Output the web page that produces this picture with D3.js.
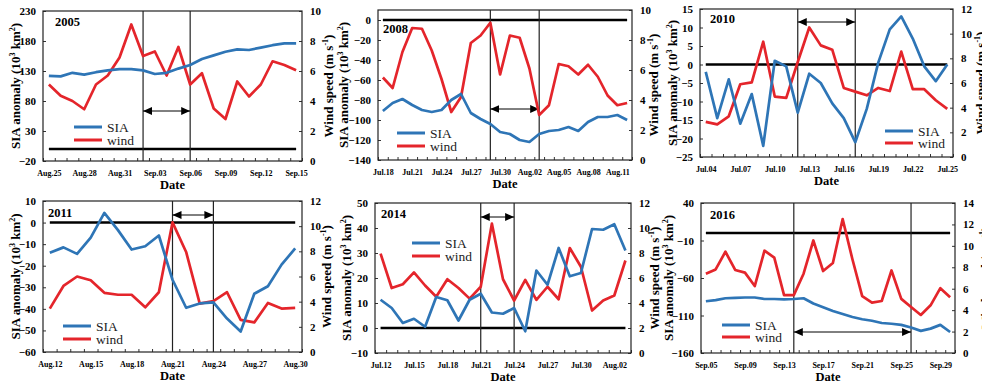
<!DOCTYPE html>
<html>
<head>
<meta charset="utf-8">
<script src="https://cdn.jsdelivr.net/npm/d3@7"></script>
<style>
  body { margin: 0; background: #fff; }
  svg text { font-family: "Liberation Serif", "Times New Roman", serif; }
</style>
</head>
<body>
<svg id="chart" width="982" height="383"></svg>
<script>
// ---- data ----
const dates2005 = ["Aug.25","Aug.26","Aug.27","Aug.28","Aug.29","Aug.30","Aug.31","Sep.01","Sep.02","Sep.03","Sep.04",
  "Sep.05","Sep.06","Sep.07","Sep.08","Sep.09","Sep.10","Sep.11","Sep.12","Sep.13","Sep.14","Sep.15"];
const sia2005 = [122,121,127,124,128,131,133,133,131,125,127,134,140,150,156,162,166,165,169,173,176,176];
const wind2005 = [5.1,4.35,4.0,3.45,5.1,5.7,6.9,9.1,7.0,7.3,5.7,7.6,5.1,5.85,3.5,2.8,5.3,4.3,5.1,6.65,6.4,6.05];
const event2005 = ["Sep.02","Sep.06"];

const dates2008 = ["Jul.18","Jul.19","Jul.20","Jul.21","Jul.22","Jul.23","Jul.24","Jul.25","Jul.26","Jul.27","Jul.28","Jul.29","Jul.30",
  "Jul.31","Aug.01","Aug.02","Aug.03","Aug.04","Aug.05","Aug.06","Aug.07","Aug.08","Aug.09","Aug.10","Aug.11","Aug.12"];
const sia2008 = [-91,-83,-79,-85,-90,-92,-90,-80,-74,-93,-99,-104,-112,-114,-120,-122,-114,-111,-110,-107,-111,-102,-97,-97,-95,-100];
const wind2008 = [5.5,4.8,7.2,8.8,8.75,7.3,5.4,3.2,4.2,7.8,8.3,9.15,5.7,8.3,8.15,6.1,3.0,3.65,6.4,6.25,5.7,6.35,5.55,4.3,3.65,3.8];
const event2008 = ["Jul.29","Aug.03"];

const dates2010 = ["Jul.04","Jul.05","Jul.06","Jul.07","Jul.08","Jul.09","Jul.10","Jul.11","Jul.12","Jul.13","Jul.14",
  "Jul.15","Jul.16","Jul.17","Jul.18","Jul.19","Jul.20","Jul.21","Jul.22","Jul.23","Jul.24","Jul.25"];
const sia2010 = [-2,-14.5,-4,-16,-8,-22,1,-0.5,-13,-2.5,-5,-10.5,-14.5,-21,-12,0.5,9.5,13,7,-0.5,-4.5,0];
const wind2010 = [2.85,2.65,3.3,5.9,6.05,9.35,4.9,4.8,7.7,10.5,9.05,8.7,5.6,5.3,5.0,5.6,5.35,8.55,5.5,5.5,4.6,3.9];
const event2010 = ["Jul.12","Jul.17"];

const dates2011 = ["Aug.12","Aug.13","Aug.14","Aug.15","Aug.16","Aug.17","Aug.18","Aug.19","Aug.20","Aug.21",
  "Aug.22","Aug.23","Aug.24","Aug.25","Aug.26","Aug.27","Aug.28","Aug.29","Aug.30"];
const sia2011 = [-14,-11.5,-14.5,-7,4.5,-3.5,-12.5,-11,-6,-26.5,-39.5,-37.5,-37,-44.5,-50.5,-33,-29.5,-19.5,-12];
const wind2011 = [3.45,5.25,6.0,5.7,4.7,4.55,4.55,3.55,4.75,10.3,7.95,3.85,4.05,4.75,2.55,2.35,3.9,3.45,3.5];
const event2011 = ["Aug.21","Aug.24"];

const dates2014 = ["Jul.12","Jul.13","Jul.14","Jul.15","Jul.16","Jul.17","Jul.18","Jul.19","Jul.20","Jul.21","Jul.22","Jul.23",
  "Jul.24","Jul.25","Jul.26","Jul.27","Jul.28","Jul.29","Jul.30","Jul.31","Aug.01","Aug.02","Aug.03"];
const sia2014 = [11.3,8,2,3.7,0.5,12.4,11.1,3,11.3,13.7,6.2,5.7,8,-1.3,23,17.3,32,20.7,22,39.6,39.3,41.5,31];
const wind2014 = [7.95,5.2,5.5,6.45,5.4,4.5,5.9,5.2,4.35,5.3,10.35,5.9,4.2,5.85,4.25,5.3,4.3,8.4,6.9,3.4,4.2,4.6,7.4];
const event2014 = ["Jul.21","Jul.24"];

const dates2016 = ["Sep.05","Sep.06","Sep.07","Sep.08","Sep.09","Sep.10","Sep.11","Sep.12","Sep.13","Sep.14","Sep.15","Sep.16","Sep.17",
  "Sep.18","Sep.19","Sep.20","Sep.21","Sep.22","Sep.23","Sep.24","Sep.25","Sep.26","Sep.27","Sep.28","Sep.29","Sep.30"];
const sia2016 = [-91,-89.5,-87,-86.5,-86,-86,-88,-88,-88.5,-88,-87,-94,-99,-104,-108,-112,-115,-117,-120,-121,-122.5,-126,-130.5,-127.5,-122.5,-132];
const wind2016 = [7.4,7.8,9.45,7.75,7.5,6.25,9.55,8.9,5.4,5.4,7.4,10.5,7.65,8.4,12.5,8.75,5.3,4.7,4.85,7.7,5.05,4.3,3.55,4.45,6.05,5.2];
const event2016 = ["Sep.14","Sep.26"];

const siaTicks2005 = [-20,30,80,130,180,230];
const siaTicks2008 = [-140,-120,-100,-80,-60,-40,-20,0];
const siaTicks2010 = [-25,-20,-15,-10,-5,0,5,10,15];
const siaTicks2011 = [-60,-50,-40,-30,-20,-10,0,10];
const siaTicks2014 = [-10,0,10,20,30,40,50];
const siaTicks2016 = [-160,-110,-60,-10,40];
const windTicks10 = [0,2,4,6,8,10];
const windTicks12 = [0,2,4,6,8,10,12];
const windTicks14 = [0,2,4,6,8,10,12,14];

const blue = "#2e75b6", red = "#e4252b";

// ---- layout ----
const panels = [
  { year: "2005", dates: dates2005, sia: sia2005, wind: wind2005, ev: event2005, every: 3,
    l: 43, r: 302, t: 11, b: 161, siaDom: [-20, 230], siaTicks: siaTicks2005, windDom: [0, 10], windTicks: windTicks10,
    ltx: 15, rtx: 328, title: [55, 26], legend: [74, 127, 13], arrowY: 111 },
  { year: "2008", dates: dates2008, sia: sia2008, wind: wind2008, ev: event2008, every: 3,
    l: 378, r: 632, t: 10, b: 160, siaDom: [-140, 10], siaTicks: siaTicks2008, windDom: [0, 10], windTicks: windTicks10,
    ltx: 343, rtx: 653, title: [383, 33], legend: [397, 133, 13], arrowY: 109 },
  { year: "2010", dates: dates2010, sia: sia2010, wind: wind2010, ev: event2010, every: 3,
    l: 700, r: 953, t: 9, b: 157, siaDom: [-25, 15], siaTicks: siaTicks2010, windDom: [0, 12], windTicks: windTicks12,
    ltx: 672, rtx: 980, title: [710, 23], legend: [885, 131, 12], arrowY: 22 },
  { year: "2011", dates: dates2011, sia: sia2011, wind: wind2011, ev: event2011, every: 3,
    l: 43, r: 302, t: 201, b: 352, siaDom: [-60, 10], siaTicks: siaTicks2011, windDom: [0, 12], windTicks: windTicks12,
    ltx: 15, rtx: 326, title: [48, 217], legend: [63, 326, 13], arrowY: 215 },
  { year: "2014", dates: dates2014, sia: sia2014, wind: wind2014, ev: event2014, every: 3,
    l: 375, r: 631, t: 203, b: 353, siaDom: [-10, 50], siaTicks: siaTicks2014, windDom: [0, 12], windTicks: windTicks12,
    ltx: 346, rtx: 654, title: [381, 218], legend: [412, 243, 13], arrowY: 217 },
  { year: "2016", dates: dates2016, sia: sia2016, wind: wind2016, ev: event2016, every: 4,
    l: 701, r: 955, t: 203, b: 353, siaDom: [-160, 40], siaTicks: siaTicks2016, windDom: [0, 14], windTicks: windTicks14,
    ltx: 668, rtx: 985, title: [710, 219], legend: [722, 325, 12], arrowY: 332 }
];

const svg = d3.select("#chart");

svg.append("defs").append("marker")
  .attr("id", "head")
  .attr("viewBox", "0 0 10 10")
  .attr("refX", 10).attr("refY", 5)
  .attr("markerUnits", "userSpaceOnUse")
  .attr("markerWidth", 9).attr("markerHeight", 8)
  .attr("preserveAspectRatio", "none")
  .attr("orient", "auto-start-reverse")
  .append("path").attr("d", "M0,0L10,5L0,10Z").attr("fill", "#000");

const supTitle = (text, parts) => {
  parts.forEach(([s, sup]) => {
    if (sup) text.append("tspan").attr("font-size", 8).attr("dy", -5).text(s);
    else text.append("tspan").attr("dy", text.selectAll("tspan").size() ? 5 : 0).text(s);
  });
};

const drawPanel = (p) => {
  const g = svg.append("g");
  const n = p.dates.length;
  const x = d3.scalePoint().domain(p.dates).range([p.l, p.r]).padding(0.5);
  const xb = d3.scaleLinear().domain([0, n]).range([p.l, p.r]);
  const yS = d3.scaleLinear().domain(p.siaDom).range([p.b, p.t]);
  const yW = d3.scaleLinear().domain(p.windDom).range([p.b, p.t]);

  // day ticks (inside) on the bottom edge
  g.append("g").attr("transform", `translate(0,${p.b})`)
    .call(d3.axisBottom(xb).tickValues(d3.range(n + 1)).tickSize(-3).tickFormat(""))
    .call(a => a.select(".domain").remove());

  // date labels
  g.append("g").attr("transform", `translate(0,${p.b})`)
    .call(d3.axisBottom(x).tickValues(p.dates.filter((d, i) => i % p.every === 0)).tickSize(0).tickPadding(9))
    .call(a => a.select(".domain").remove())
    .selectAll("text").attr("font-size", 8).attr("font-weight", "bold").attr("font-family", "Liberation Serif");

  g.append("g").attr("transform", `translate(${p.l},0)`)
    .call(d3.axisLeft(yS).tickValues(p.siaTicks).tickSize(-3).tickPadding(7))
    .call(a => a.select(".domain").remove())
    .selectAll("text").attr("font-size", 11).attr("font-weight", "bold").attr("font-family", "Liberation Serif");

  g.append("g").attr("transform", `translate(${p.r},0)`)
    .call(d3.axisRight(yW).tickValues(p.windTicks).tickSize(-3).tickPadding(8))
    .call(a => a.select(".domain").remove())
    .selectAll("text").attr("font-size", 11).attr("font-weight", "bold").attr("font-family", "Liberation Serif");

  g.selectAll(".tick line").attr("stroke", "#333");

  g.append("rect")
    .attr("x", p.l).attr("y", p.t).attr("width", p.r - p.l).attr("height", p.b - p.t)
    .attr("fill", "none").attr("stroke", "#222").attr("stroke-width", 1.2);

  // zero line
  g.append("line")
    .attr("x1", x(p.dates[0])).attr("x2", x(p.dates[n - 1]))
    .attr("y1", yS(0)).attr("y2", yS(0))
    .attr("stroke", "#000").attr("stroke-width", 2.5);

  // event window
  p.ev.forEach(d => {
    g.append("line").attr("x1", x(d)).attr("x2", x(d)).attr("y1", p.t).attr("y2", p.b)
      .attr("stroke", "#222").attr("stroke-width", 1.2);
  });
  g.append("line")
    .attr("x1", x(p.ev[0])).attr("x2", x(p.ev[1]))
    .attr("y1", p.arrowY).attr("y2", p.arrowY)
    .attr("stroke", "#000").attr("stroke-width", 1)
    .attr("marker-start", "url(#head)").attr("marker-end", "url(#head)");

  const siaLine = d3.line().x((d, i) => x(p.dates[i])).y(d => yS(d));
  const windLine = d3.line().x((d, i) => x(p.dates[i])).y(d => yW(d));

  g.append("path").attr("d", windLine(p.wind))
    .attr("fill", "none").attr("stroke", red).attr("stroke-width", 2.7).attr("stroke-linejoin", "round");
  g.append("path").attr("d", siaLine(p.sia))
    .attr("fill", "none").attr("stroke", blue).attr("stroke-width", 2.7).attr("stroke-linejoin", "round");

  // year
  g.append("text").attr("x", p.title[0]).attr("y", p.title[1])
    .attr("font-size", 12.5).attr("font-weight", "bold").text(p.year);

  // legend
  const [lx, ly, gap] = p.legend;
  [["SIA", blue], ["wind", red]].forEach(([name, c], i) => {
    g.append("line").attr("x1", lx).attr("x2", lx + 28).attr("y1", ly + i * gap).attr("y2", ly + i * gap)
      .attr("stroke", c).attr("stroke-width", 3);
    g.append("text").attr("x", lx + 33).attr("y", ly + i * gap + 4.5)
      .attr("font-size", 13.5).attr("fill", "#222").text(name);
  });

  // axis titles
  g.append("text").attr("x", (p.l + p.r) / 2).attr("y", p.b + 28)
    .attr("text-anchor", "middle").attr("font-size", 12.5).attr("font-weight", "bold").text("Date");

  const cy = (p.t + p.b) / 2;
  const lt = g.append("text")
    .attr("transform", `translate(${p.ltx},${cy}) rotate(-90)`)
    .attr("text-anchor", "middle").attr("dy", "0.35em")
    .attr("font-size", 13).attr("font-weight", "bold");
  supTitle(lt, [["SIA anomaly (10"], ["3", true], [" km"], ["2", true], [")"]]);

  const rt = g.append("text")
    .attr("transform", `translate(${p.rtx},${cy}) rotate(-90)`)
    .attr("text-anchor", "middle").attr("dy", "0.35em")
    .attr("font-size", 13).attr("font-weight", "bold");
  supTitle(rt, [["Wind speed (m s"], ["-1", true], [")"]]);
};

panels.forEach(drawPanel);
</script>
</body>
</html>
